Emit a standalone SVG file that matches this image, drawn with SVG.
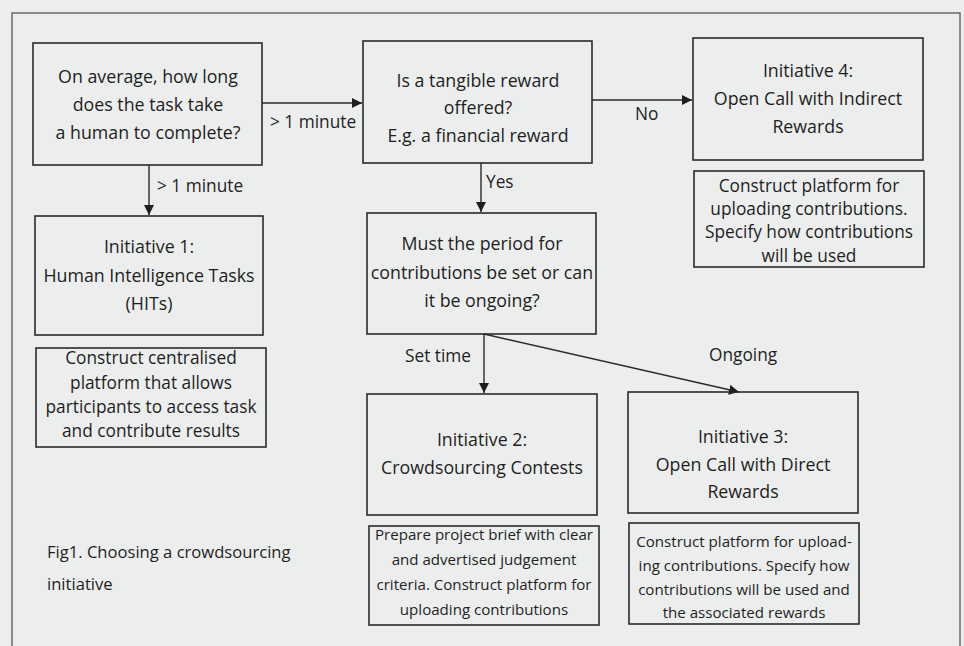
<svg xmlns="http://www.w3.org/2000/svg" width="964" height="646" viewBox="0 0 964 646">
<defs>
<style>
.bg{fill:#eceeed}
.frame{fill:none;stroke:#555;stroke-width:1.3}
.box{fill:none;stroke:#2a2a2a;stroke-width:1.6}
.t{font-family:"Open Sans","Noto Sans","Liberation Sans",sans-serif;font-size:17.8px;fill:#1e1e1e;text-anchor:middle}
.n{font-family:"Open Sans","Noto Sans","Liberation Sans",sans-serif;font-size:17.3px;fill:#1e1e1e;text-anchor:middle}
.s{font-family:"Open Sans","Noto Sans","Liberation Sans",sans-serif;font-size:15.1px;fill:#1e1e1e;text-anchor:middle}
.lbl{font-family:"Open Sans","Noto Sans","Liberation Sans",sans-serif;font-size:17.3px;fill:#1e1e1e}
.cap{font-family:"Open Sans","Noto Sans","Liberation Sans",sans-serif;font-size:16.6px;fill:#1e1e1e}
.edge{fill:none;stroke:#2a2a2a;stroke-width:1.4}
</style>
<marker id="ah" viewBox="0 0 10 10" refX="10" refY="5" markerWidth="10" markerHeight="10" markerUnits="userSpaceOnUse" orient="auto">
<path d="M0,0 L10,5 L0,10 z" fill="#1e1e1e"/>
</marker>
</defs>
<rect class="bg" x="0" y="0" width="964" height="646"/>
<rect class="frame" x="12" y="13" width="948" height="640"/>

<g id="connectors">
<line class="edge" x1="262" y1="103" x2="362" y2="103" marker-end="url(#ah)"/>
<text class="lbl" x="270" y="128">&gt; 1 minute</text>
<line class="edge" x1="149" y1="165" x2="149" y2="215" marker-end="url(#ah)"/>
<text class="lbl" x="157" y="192">&gt; 1 minute</text>
<line class="edge" x1="592" y1="100" x2="692" y2="100" marker-end="url(#ah)"/>
<text class="lbl" x="635" y="120">No</text>
<line class="edge" x1="481" y1="163" x2="481" y2="212" marker-end="url(#ah)"/>
<text class="lbl" x="486" y="188">Yes</text>
<line class="edge" x1="484" y1="334" x2="484" y2="393" marker-end="url(#ah)"/>
<text class="lbl" x="405" y="362">Set time</text>
<line class="edge" x1="484" y1="334" x2="739" y2="392" marker-end="url(#ah)"/>
<text class="lbl" x="709" y="361">Ongoing</text>
</g>

<g id="q1">
<rect class="box" x="33" y="43" width="229" height="122"/>
<text class="t" x="148" y="83">On average, how long</text>
<text class="t" x="148" y="111">does the task take</text>
<text class="t" x="148" y="139">a human to complete?</text>
</g>

<g id="q2">
<rect class="box" x="363" y="41" width="229" height="122"/>
<text class="t" x="478" y="87">Is a tangible reward</text>
<text class="t" x="478" y="114">offered?</text>
<text class="t" x="478" y="142">E.g. a financial reward</text>
</g>

<g id="init4">
<rect class="box" x="693" y="38" width="230" height="122"/>
<text class="t" x="808" y="77">Initiative 4:</text>
<text class="t" x="808" y="105">Open Call with Indirect</text>
<text class="t" x="808" y="133">Rewards</text>
</g>

<g id="init4-note">
<rect class="box" x="694" y="171" width="230" height="96"/>
<text class="n" x="809" y="192">Construct platform for</text>
<text class="n" x="809" y="215">uploading contributions.</text>
<text class="n" x="809" y="238">Specify how contributions</text>
<text class="n" x="809" y="262">will be used</text>
</g>

<g id="init1">
<rect class="box" x="35" y="216" width="228" height="119"/>
<text class="t" x="149" y="253">Initiative 1:</text>
<text class="t" x="149" y="282">Human Intelligence Tasks</text>
<text class="t" x="149" y="310">(HITs)</text>
</g>

<g id="init1-note">
<rect class="box" x="36" y="348" width="230" height="99"/>
<text class="n" x="151" y="364">Construct centralised</text>
<text class="n" x="151" y="389">platform that allows</text>
<text class="n" x="151" y="413">participants to access task</text>
<text class="n" x="151" y="437">and contribute results</text>
</g>

<g id="q3">
<rect class="box" x="367" y="213" width="229" height="121"/>
<text class="t" x="482" y="250">Must the period for</text>
<text class="t" x="482" y="279">contributions be set or can</text>
<text class="t" x="482" y="307">it be ongoing?</text>
</g>

<g id="init2">
<rect class="box" x="367" y="394" width="230" height="121"/>
<text class="t" x="482" y="446">Initiative 2:</text>
<text class="t" x="482" y="474">Crowdsourcing Contests</text>
</g>

<g id="init2-note">
<rect class="box" x="369" y="526" width="230" height="99"/>
<text class="s" x="484" y="540">Prepare project brief with clear</text>
<text class="s" x="484" y="565">and advertised judgement</text>
<text class="s" x="484" y="590">criteria. Construct platform for</text>
<text class="s" x="484" y="615">uploading contributions</text>
</g>

<g id="init3">
<rect class="box" x="628" y="392" width="230" height="121"/>
<text class="t" x="743" y="443">Initiative 3:</text>
<text class="t" x="743" y="471">Open Call with Direct</text>
<text class="t" x="743" y="498">Rewards</text>
</g>

<g id="init3-note">
<rect class="box" x="629" y="523" width="230" height="101"/>
<text class="s" x="744" y="547">Construct platform for upload-</text>
<text class="s" x="744" y="571">ing contributions. Specify how</text>
<text class="s" x="744" y="595">contributions will be used and</text>
<text class="s" x="744" y="618">the associated rewards</text>
</g>

<g id="caption">
<text class="cap" x="47" y="558">Fig1. Choosing a crowdsourcing</text>
<text class="cap" x="47" y="590">initiative</text>
</g>
</svg>
